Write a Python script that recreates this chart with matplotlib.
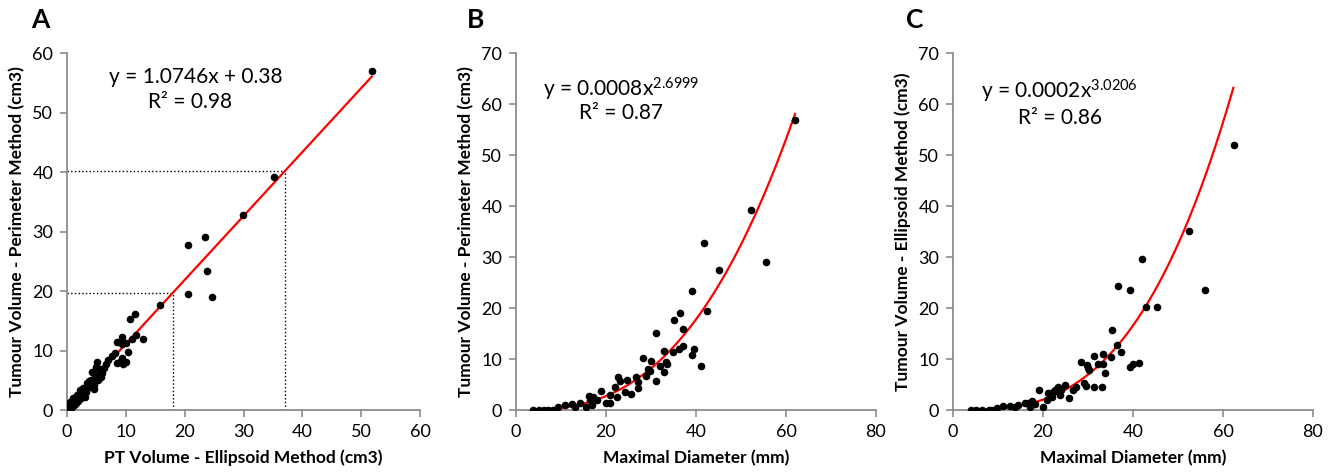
import matplotlib
matplotlib.use('Agg')
import matplotlib.pyplot as plt
import numpy as np

plt.rcParams['font.family'] = ['Lato', 'DejaVu Sans']
plt.rcParams['mathtext.fontset'] = 'custom'
plt.rcParams['mathtext.rm'] = 'Lato'
plt.rcParams['mathtext.it'] = 'Lato'

# ---------------- datos ----------------

# A: volumen perimetro vs volumen elipsoide
a_x = [51.8, 35.1, 29.9, 20.5, 23.4, 23.8, 20.5, 24.6, 15.8,
       10.7, 11.5, 12.9, 11.7, 9.3, 8.5, 9.3, 10.4, 8.2, 7.6, 9.3, 9.0, 8.5, 9.5, 10.0, 11.0, 10.0,
       5.1, 4.9, 4.2, 5.6, 4.8, 3.4, 3.9, 2.7, 2.2, 1.7, 1.0, 0.5, 0.1, 3.1, 3.6, 4.4, 4.0, 5.4,
       6.0, 2.5, 2.0, 1.5, 1.2, 0.8, 0.3, 0.6, 1.8, 2.9, 3.3, 4.5, 5.8, 4.6, 2.4, 3.0, 1.4, 0.9,
       6.3, 7.0, 6.6, 3.8, 5.2, 4.1, 2.2, 1.1]
a_y = [57.0, 39.2, 32.8, 27.7, 29.1, 23.4, 19.5, 19.0, 17.6,
       15.3, 16.1, 11.9, 12.6, 12.3, 11.4, 11.1, 9.7, 9.6, 9.1, 8.7, 8.1, 7.9, 7.7, 8.0, 12.0, 11.3,
       8.1, 7.2, 6.4, 6.9, 5.5, 4.5, 3.9, 3.7, 3.0, 2.5, 2.0, 1.3, 0.7, 3.4, 3.9, 4.7, 5.0, 6.2,
       6.3, 2.4, 1.8, 1.2, 0.9, 0.5, 0.2, 0.8, 1.5, 2.6, 3.0, 4.2, 5.6, 3.5, 2.0, 2.2, 1.0, 1.2,
       7.0, 8.4, 7.8, 4.8, 5.0, 4.3, 3.4, 1.6]
a_label = 'y = 1.0746x + 0.38'
a_r2 = 'R² = 0.98'
a_slope, a_icpt = 1.0746, 0.38
a_guides = [18, 37]

# B: volumen perimetro vs diametro maximo
b_x = [62.0, 52.3, 41.8, 45.1, 55.6, 39.0, 42.5, 36.4, 35.0, 37.0, 31.0, 32.8, 37.0, 36.3,
       39.5, 34.8, 39.0, 41.0, 28.2, 30.1, 33.3, 33.6, 32.0, 29.3, 29.8, 32.9, 28.8, 31.0,
       26.6, 22.7, 23.1, 24.7, 27.2, 27.2, 22.0, 24.2, 25.6, 18.8, 20.9, 22.4, 20.1, 20.9,
       16.1, 17.2, 16.4, 16.8, 14.2, 12.4, 10.9, 9.4, 8.3, 6.1, 3.8, 17.9, 15.6, 13.1, 7.1, 5.0]
b_y = [56.9, 39.2, 32.8, 27.5, 29.0, 23.4, 19.5, 19.1, 17.6, 15.9, 15.1, 11.6, 12.5, 12.0,
       12.0, 11.3, 10.8, 8.6, 10.2, 9.6, 9.4, 9.0, 8.6, 8.0, 7.7, 7.5, 6.7, 5.7,
       6.5, 6.5, 5.7, 5.9, 5.4, 4.4, 4.6, 3.6, 3.1, 3.7, 2.9, 2.6, 1.3, 1.3,
       2.7, 2.6, 2.0, 1.0, 1.3, 1.2, 1.0, 0.6, 0.1, 0.0, 0.0, 2.0, 0.6, 0.6, 0.1, 0.0]
b_label = r'y = 0.0008x$^{2.6999}$'
b_r2 = 'R² = 0.87'
b_coef, b_exp = 0.00084, 2.6999   # coeficiente sin redondear (curva dibujada)
b_range = [3.8, 62.0]

# C: volumen elipsoide vs diametro maximo
c_x = [62.4, 52.5, 42.1, 36.6, 39.3, 55.9, 42.8, 45.3, 35.3, 36.4, 37.3, 35.1, 33.3, 31.3,
       32.3, 33.4, 28.4, 29.7, 29.9, 30.2, 39.3, 39.9, 41.3, 33.8, 29.0, 29.5, 31.3, 33.0,
       27.3, 26.7, 24.9, 23.4, 22.7, 24.1, 25.8, 21.2, 21.9, 20.8, 19.1, 20.1, 17.5, 16.7,
       17.1, 16.0, 14.5, 12.7, 11.2, 9.7, 7.9, 6.4, 4.0, 18.2, 13.8, 22.3, 23.8, 8.6, 5.2]
c_y = [52.0, 35.1, 29.6, 24.4, 23.6, 23.5, 20.3, 20.3, 15.7, 12.7, 11.4, 10.3, 11.0, 10.5,
       9.1, 9.1, 9.5, 8.8, 8.2, 7.8, 8.4, 9.0, 9.3, 7.3, 5.2, 4.7, 4.6, 4.6,
       4.6, 4.0, 4.9, 4.6, 3.9, 3.9, 2.4, 3.3, 2.6, 2.0, 3.9, 0.6, 1.8, 1.3,
       0.6, 1.4, 1.0, 0.8, 0.8, 0.3, 0.1, 0.0, 0.0, 1.2, 0.6, 3.6, 2.9, 0.1, 0.0]
c_label = r'y = 0.0002x$^{3.0206}$'
c_r2 = 'R² = 0.86'
c_coef, c_exp = 0.00024, 3.0206
c_range = [4.0, 62.3]

GREY = '#8c8c8c'


def style_axes(ax, xmax, ymax, xstep, ystep, xlabel, ylabel):
    ax.set_xlim(0, xmax)
    ax.set_ylim(0, ymax)
    ax.set_xticks(np.arange(0, xmax + 1, xstep))
    ax.set_yticks(np.arange(0, ymax + 1, ystep))
    for s in ('top', 'right'):
        ax.spines[s].set_visible(False)
    for s in ('left', 'bottom'):
        ax.spines[s].set_color(GREY)
        ax.spines[s].set_linewidth(1.3)
    ax.tick_params(direction='out', length=5, width=1.2, color=GREY,
                   labelsize=13, pad=5)
    ax.set_xlabel(xlabel, fontsize=12.5, fontweight='bold', labelpad=7)
    ax.set_ylabel(ylabel, fontsize=12.5, fontweight='bold', labelpad=5)


fig = plt.figure(figsize=(13.38, 4.74), dpi=100)
axA = fig.add_axes([0.0501, 0.135, 0.2638, 0.753])
axB = fig.add_axes([0.3857, 0.135, 0.2690, 0.753])
axC = fig.add_axes([0.7123, 0.135, 0.2690, 0.753])

# ---- A ----
for g in a_guides:
    yg = a_slope * g + a_icpt
    axA.plot([g, g], [0, yg], color='black', ls=':', lw=1)
    axA.plot([0, g], [yg, yg], color='black', ls=':', lw=1)
xa = np.array([0, max(a_x)])
axA.plot(xa, a_slope * xa + a_icpt, color='red', lw=1.6, zorder=3)
axA.scatter(a_x, a_y, s=20, color='black', zorder=4)
style_axes(axA, 60, 60, 10, 10, 'PT Volume - Ellipsoid Method (cm3)',
           'Tumour Volume - Perimeter Method (cm3)')
axA.text(21.9, 56.0, a_label, ha='center', va='center', fontsize=15)
axA.text(20.9, 51.8, a_r2, ha='center', va='center', fontsize=15)

# ---- B ----
xb = np.linspace(b_range[0], b_range[1], 200)
axB.plot(xb, b_coef * xb ** b_exp, color='red', lw=1.6, zorder=3)
axB.scatter(b_x, b_y, s=20, color='black', zorder=4)
style_axes(axB, 80, 70, 20, 10, 'Maximal Diameter (mm)',
           'Tumour Volume - Perimeter Method (cm3)')
axB.text(23.3, 62.9, b_label, ha='center', va='center', fontsize=15)
axB.text(23.3, 58.2, b_r2, ha='center', va='center', fontsize=15)

# ---- C ----
xc = np.linspace(c_range[0], c_range[1], 200)
axC.plot(xc, c_coef * xc ** c_exp, color='red', lw=1.6, zorder=3)
axC.scatter(c_x, c_y, s=20, color='black', zorder=4)
style_axes(axC, 80, 70, 20, 10, 'Maximal Diameter (mm)',
           'Tumour Volume - Ellipsoid Method (cm3)')
axC.text(23.6, 62.4, c_label, ha='center', va='center', fontsize=15)
axC.text(23.8, 57.3, c_r2, ha='center', va='center', fontsize=15)

# letras de panel
for lx, lab in [(40, 'A'), (476, 'B'), (915, 'C')]:
    fig.text(lx / 1338, 1 - 20 / 474, lab, ha='center', va='center',
             fontsize=19, fontweight='bold')

fig.savefig('out.png', dpi=100)
